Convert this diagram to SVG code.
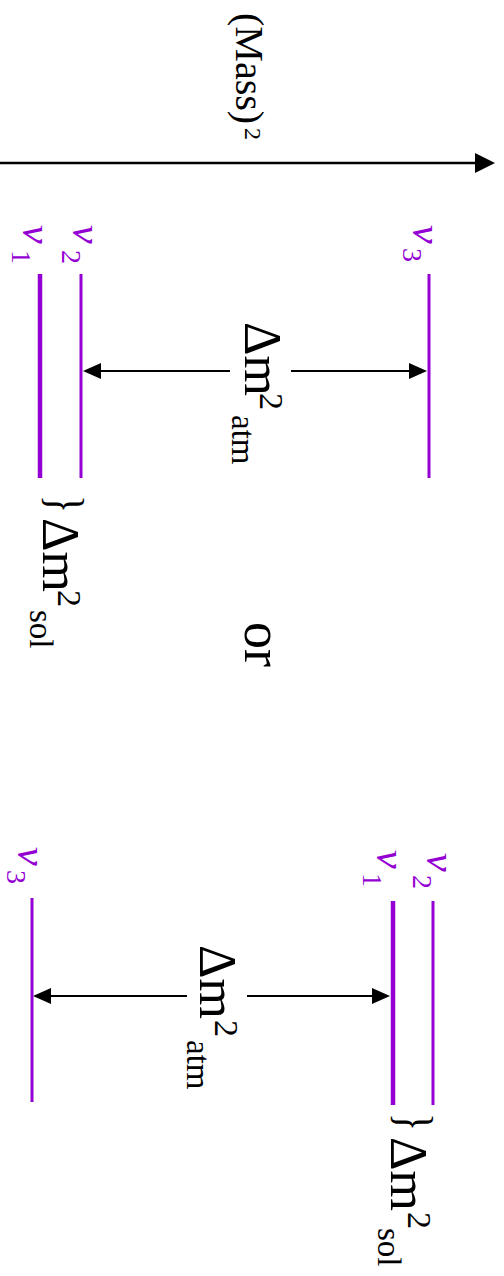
<svg xmlns="http://www.w3.org/2000/svg" width="504" height="1276" viewBox="0 0 504 1276">
<defs>
<style>
.lv{stroke:#9400D3;stroke-width:3;fill:none}
.lvb{stroke:#9400D3;stroke-width:4.5;fill:none}
.ar{stroke:#000;stroke-width:2.2;fill:none;marker-end:url(#ah)}
.ax{stroke:#000;stroke-width:2.5;fill:none;marker-end:url(#ahx)}
.nu{font-family:"Liberation Serif",serif;fill:#9400D3;font-size:42px;font-style:italic}
.nus{font-size:28px;font-style:normal}
.t{font-family:"Liberation Serif",serif;fill:#000}
.big{font-size:52px}
.sup{font-size:34px}
.sub{font-size:33px}
</style>
<marker id="ah" viewBox="0 0 18 16" refX="0" refY="8" markerWidth="18" markerHeight="16" markerUnits="userSpaceOnUse" orient="auto"><path d="M0,0 L18,8 L0,16 z" fill="#000"/></marker>
<marker id="ahx" viewBox="0 0 20 20" refX="0" refY="10" markerWidth="20" markerHeight="20" markerUnits="userSpaceOnUse" orient="auto"><path d="M0,0 L20,10 L0,20 z" fill="#000"/></marker>
</defs>
<rect width="504" height="1276" fill="#fff"/>
<g transform="translate(504,0) rotate(90)">
  <g id="axis">
    <text class="t" x="13" y="268" font-size="40">(Mass)<tspan x="128" y="259" font-size="24">2</tspan></text>
  </g>
  <g id="connectors">
    <line class="ax" x1="163" y1="504" x2="163" y2="29"/>
    <line class="ar" x1="371" y1="274" x2="371" y2="403"/>
    <line class="ar" x1="371" y1="213" x2="371" y2="95"/>
    <line class="ar" x1="996" y1="317" x2="996" y2="453"/>
    <line class="ar" x1="996" y1="257" x2="996" y2="132"/>
  </g>
  <g id="top-nu1">
    <line class="lvb" x1="274" y1="464" x2="478" y2="464"/>
    <text class="nu" x="225" y="481">ν<tspan class="nus" x="250" y="492">1</tspan></text>
  </g>
  <g id="top-nu2">
    <line class="lv" x1="274" y1="423" x2="478" y2="423"/>
    <text class="nu" x="225" y="431">ν<tspan class="nus" x="250" y="442">2</tspan></text>
  </g>
  <g id="top-nu3">
    <line class="lv" x1="274" y1="75" x2="478" y2="75"/>
    <text class="nu" x="225" y="91">ν<tspan class="nus" x="248" y="101">3</tspan></text>
  </g>
  <g id="top-atm">
    <text class="t big" x="322" y="259">Δm<tspan class="sup" x="393" y="244">2</tspan><tspan class="sub" x="415" y="272">atm</tspan></text>
  </g>
  <g id="top-sol">
    <text class="t" x="495" y="455" font-size="50" transform="translate(495,0) scale(0.75,1) translate(-495,0)">}</text>
    <text class="t big" x="518" y="461">Δm<tspan class="sup" x="590" y="446">2</tspan><tspan class="sub" x="610" y="474">sol</tspan></text>
  </g>
  <g id="or">
    <text class="t" x="622" y="259" font-size="54">or</text>
  </g>
  <g id="bot-nu3">
    <line class="lv" x1="898" y1="472" x2="1102" y2="472"/>
    <text class="nu" x="847" y="486">ν<tspan class="nus" x="870" y="497">3</tspan></text>
  </g>
  <g id="bot-nu1">
    <line class="lvb" x1="901" y1="111" x2="1105" y2="111"/>
    <text class="nu" x="850" y="127">ν<tspan class="nus" x="873" y="141">1</tspan></text>
  </g>
  <g id="bot-nu2">
    <line class="lv" x1="901" y1="71" x2="1105" y2="71"/>
    <text class="nu" x="853" y="77">ν<tspan class="nus" x="875" y="91">2</tspan></text>
  </g>
  <g id="bot-atm">
    <text class="t big" x="945" y="304">Δm<tspan class="sup" x="1020" y="289">2</tspan><tspan class="sub" x="1040" y="317">atm</tspan></text>
  </g>
  <g id="bot-sol">
    <text class="t" x="1113" y="106" font-size="50" transform="translate(1113,0) scale(0.75,1) translate(-1113,0)">}</text>
    <text class="t big" x="1137" y="113">Δm<tspan class="sup" x="1212" y="96">2</tspan><tspan class="sub" x="1228" y="126">sol</tspan></text>
  </g>
</g>
</svg>
